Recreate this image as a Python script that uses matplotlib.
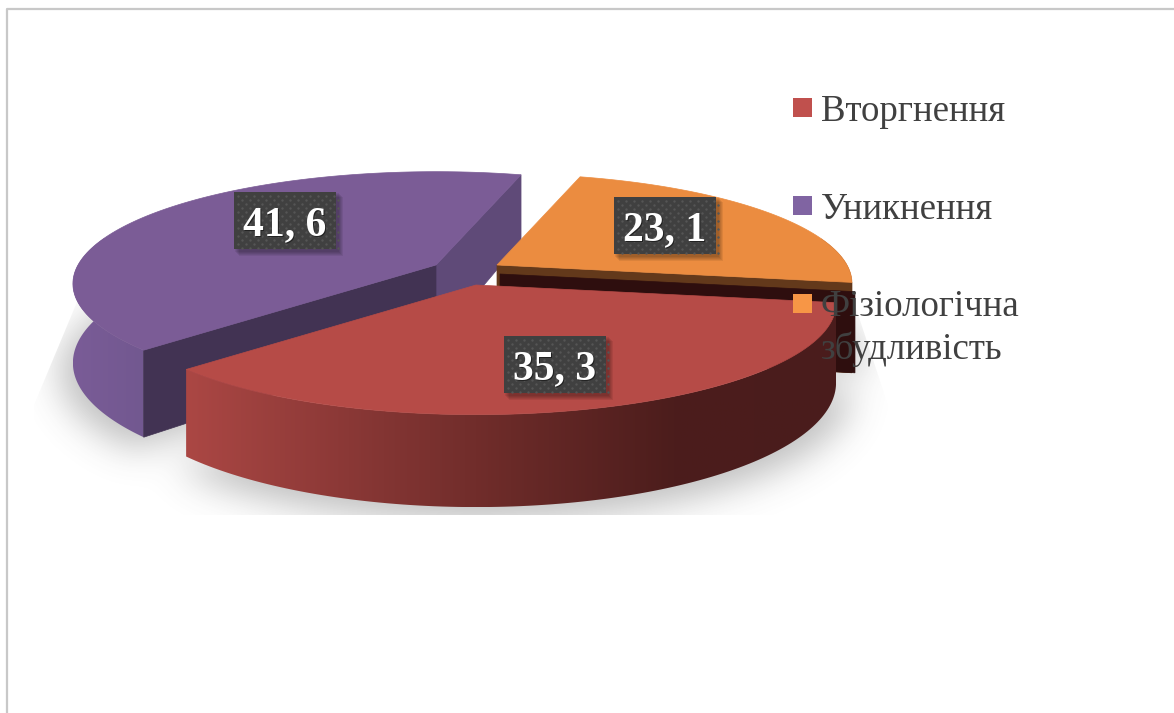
import numpy as np
import matplotlib
matplotlib.use('Agg')
import matplotlib.pyplot as plt
from matplotlib.colors import LinearSegmentedColormap
from matplotlib.patches import Polygon, Rectangle
from matplotlib.path import Path

labels = ['Вторгнення', 'Уникнення', 'Фізіологічна\nзбудливість']
values = [35.3, 41.6, 23.1]

top_colors = ['#b64b47', '#7b5c96', '#eb8c40']
legend_colors = ['#c0504d', '#8064a2', '#f79646']

START_ANGLE = 74.0
TILT = 108.0
PERSP = 0.167

plt.rcParams['font.family'] = ['Liberation Serif', 'DejaVu Serif']

fig = plt.figure(figsize=(11.74, 7.13), dpi=100)
ax = fig.add_axes([0, 0, 1, 1])
ax.set_xlim(0, 1174)
ax.set_ylim(713, 0)
ax.axis('off')
ax.set_autoscale_on(False)


def project(theta, cx, cy, radius, z=0.0):
    # perspective projection of a point on the disc, theta in degrees
    t = np.radians(theta)
    s = 1.0 / (1.0 + PERSP * np.sin(t))
    x = cx + radius * np.cos(t) * s
    y = cy - TILT * (radius / 355.0) * np.sin(t) * s + z * s
    return x, y


def arc(t0, t1, cx, cy, radius, z=0.0):
    th = np.linspace(t0, t1, 120)
    return np.column_stack(project(th, cx, cy, radius, z))


def gradient_wall(points, stops, zorder):
    poly = Polygon(points, closed=True, fc='none', ec='none', zorder=zorder)
    ax.add_patch(poly)
    cmap = LinearSegmentedColormap.from_list('wall', stops)
    x0, x1 = points[:, 0].min(), points[:, 0].max()
    y0, y1 = points[:, 1].min(), points[:, 1].max()
    grad = np.linspace(0, 1, 256).reshape(1, -1)
    im = ax.imshow(grad, cmap=cmap, extent=(x0, x1, y1, y0), aspect='auto', zorder=zorder)
    im.set_clip_path(poly)


def gaussian_blur(img, sigma):
    k = np.exp(-0.5 * (np.arange(-40, 41) / sigma) ** 2)
    k /= k.sum()
    img = np.apply_along_axis(lambda row: np.convolve(row, k, mode='same'), 0, img)
    return np.apply_along_axis(lambda row: np.convolve(row, k, mode='same'), 1, img)


# angles of the three slices, clockwise from the start angle
fractions = {lab: v / sum(values) * 360.0 for lab, v in zip(labels, values)}
orange_a = (START_ANGLE, START_ANGLE - fractions[labels[2]])
red_a = (orange_a[1], orange_a[1] - fractions[labels[0]])
purple_a = (red_a[1], red_a[1] - fractions[labels[1]])

red_c = (476, 285, 355)
purple_c = (436, 265, 358)
orange_c = (497, 265, 350)
HEIGHT = 77.0

# soft shadow under the pie, cut by the floor plane
step = 2
gx, gy = np.meshgrid(np.arange(0, 1174, step), np.arange(0, 713, step))
grid = np.column_stack([gx.ravel(), gy.ravel()])
mask = np.zeros(gx.shape)
for angs, (cx, cy, r) in ((purple_a, purple_c), (red_a, red_c), (orange_a, orange_c)):
    outline = np.vstack([[cx, cy + HEIGHT + 8], arc(angs[0], angs[1], cx, cy + 8, r * 1.04, HEIGHT)])
    mask[Path(outline).contains_points(grid).reshape(gx.shape)] = 1.0
mask = gaussian_blur(mask, 9.0)

rgba = np.zeros(gx.shape + (4,))
rgba[..., :3] = 0.3
rgba[..., 3] = mask * 0.36
clip_shape = Polygon([(82, 290), (850, 290), (888, 405), (888, 515), (34, 515), (34, 405)],
                     closed=True, fc='none', ec='none')
ax.add_patch(clip_shape)
shadow = ax.imshow(rgba, extent=(0, 1174, 713, 0), aspect='auto', interpolation='bilinear', zorder=1)
shadow.set_clip_path(clip_shape)


def cut_face(angle, c, color, zorder, z0=0.0, height=HEIGHT, inset=0.0):
    cx, cy, r = c
    ex, ey = project(angle, cx, cy, r, z0)
    bx, by = project(angle, cx, cy, r, height)
    pts = [(cx + inset, cy + z0), (ex + inset, ey), (bx + inset, by), (cx + inset, cy + height)]
    ax.add_patch(Polygon(pts, closed=True, fc=color, ec=color, lw=0.5, zorder=zorder))


# purple slice
cx, cy, r = purple_c
wall = np.vstack([arc(purple_a[0], -195, cx, cy, r), arc(-195, purple_a[0], cx, cy, r, HEIGHT)])
gradient_wall(wall, ['#7a5c97', '#725890'], 3)
cut_face(purple_a[1], purple_c, '#5f4a78', 4)
cut_face(purple_a[0], purple_c, '#423353', 4)
top = np.vstack([[cx, cy], arc(purple_a[0], purple_a[1], cx, cy, r)])
ax.add_patch(Polygon(top, closed=True, fc=top_colors[1], ec=top_colors[1], lw=0.5, zorder=5))

# orange slice
cx, cy, r = orange_c
h_orange = 88.0
wall = np.vstack([arc(orange_a[1], 15, cx, cy, r), arc(15, orange_a[1], cx, cy, r, h_orange)])
ax.add_patch(Polygon(wall, closed=True, fc='#2e0e0e', ec='none', zorder=6))
cut_face(orange_a[1], orange_c, '#63391b', 7, height=h_orange)
cut_face(orange_a[1], orange_c, '#2e0e0e', 8, z0=9.0, height=h_orange, inset=3.0)
top = np.vstack([[cx, cy], arc(orange_a[0], orange_a[1], cx, cy, r)])
ax.add_patch(Polygon(top, closed=True, fc=top_colors[2], ec=top_colors[2], lw=0.5, zorder=9))

# red slice, in front of the others
cx, cy, r = red_c
wall = np.vstack([arc(red_a[0], red_a[1], cx, cy, r), arc(red_a[1], red_a[0], cx, cy, r, HEIGHT)])
gradient_wall(wall, ['#ab4744', '#8a3836', '#6a2a28', '#4c1d1c', '#4a1c1c'], 10)
top = np.vstack([[cx, cy], arc(red_a[0], red_a[1], cx, cy, r)])
ax.add_patch(Polygon(top, closed=True, fc=top_colors[0], ec=top_colors[0], lw=0.5, zorder=11))

# data labels on dark dotted boxes
label_boxes = [(504, 336), (234, 192), (614, 197)]
box_w, box_h = 102, 57
for v, (bx, by) in zip(values, label_boxes):
    for k in range(5):
        ax.add_patch(Rectangle((bx + 1 + k, by + 1 + k), box_w + 2, box_h + 2, fc='black', ec='none',
                               alpha=0.07, zorder=12))
    ax.add_patch(Rectangle((bx, by), box_w, box_h, fc='#404040', ec='none', zorder=13))
    dx, dy = np.meshgrid(np.arange(bx + 4, bx + box_w, 8), np.arange(by + 4, by + box_h, 8))
    ax.scatter(dx.ravel(), dy.ravel(), s=3, c='#555555', linewidths=0, zorder=14)
    ax.scatter(dx.ravel() + 4, dy.ravel() + 4, s=3, c='#555555', linewidths=0, zorder=14)
    txt = f'{v:.1f}'.replace('.', ', ')
    ax.text(bx + box_w / 2 + 1, by + 43 + 1, txt, color='#222222', fontsize=30, fontweight='bold',
            ha='center', va='baseline', zorder=15)
    ax.text(bx + box_w / 2, by + 43, txt, color='white', fontsize=30, fontweight='bold',
            ha='center', va='baseline', zorder=16)

# legend
legend_y = [98, 196, 294]
baselines = [121, 219, 316]
for lab, col, ly, base in zip(labels, legend_colors, legend_y, baselines):
    ax.add_patch(Rectangle((793, ly), 19, 19, fc=col, ec='none', zorder=20))
    for j, part in enumerate(lab.split('\n')):
        ax.text(821, base + j * 43, part, color='#404040', fontsize=26.6, ha='left', va='baseline', zorder=21)

# chart area border
ax.plot([6.5, 6.5, 1174], [713, 8.5, 8.5], color='#c8c8c8', lw=1.6, zorder=0)

fig.savefig('out.png', dpi=100)
